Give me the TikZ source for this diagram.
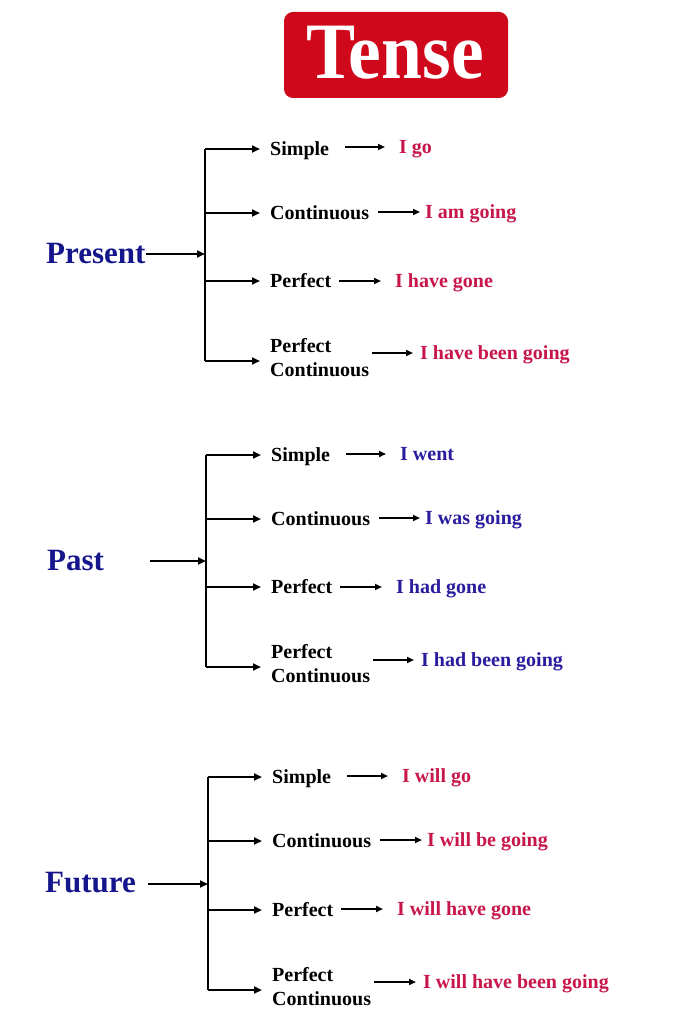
\documentclass[tikz,border=0pt]{standalone}
\usepackage{fontspec}
\setmainfont{Liberation Serif}
\usetikzlibrary{arrows.meta}
\definecolor{tred}{RGB}{208,8,28}
\definecolor{navy}{RGB}{22,22,140}
\definecolor{exred}{RGB}{200,22,75}
\definecolor{exblue}{RGB}{42,28,158}
\begin{document}
\begin{tikzpicture}[x=1pt,y=-1pt,
 lab/.style={anchor=west,inner sep=0pt,font=\fontsize{20}{22}\selectfont\bfseries,text height=13pt,text depth=0pt},
 exr/.style={lab,text=exred},
 exb/.style={lab,text=exblue},
 head/.style={anchor=west,inner sep=0pt,font=\fontsize{31}{36}\selectfont\bfseries,text=navy,text height=20.5pt,text depth=0pt},
 br/.style={line width=2.2pt},
 arr/.style={line width=2.2pt,-{Triangle[length=8pt,width=7pt]}},
 sarr/.style={line width=1.8pt,-{Triangle[length=7pt,width=6pt]}}]
\useasboundingbox (0,0) rectangle (700,1024);
\fill[white] (0,0) rectangle (700,1024);
% title
\node[fill=tred,rounded corners=9pt,minimum width=224pt,minimum height=86pt,inner sep=0pt] (title) at (396,55) {};
\node[text=white,inner sep=0pt,font=\fontsize{80}{80}\selectfont\bfseries,text height=53pt,text depth=0pt] (tensetext) at (395,52) {\scalebox{0.92}[1]{Tense}};
% ---------- Present ----------
\node[head] (pres) at (46,253) {Present};
\coordinate (pj) at (205,254);
\coordinate (pt) at (205,149);
\coordinate (pb) at (205,361);
\draw[br] (pt) -- (pb);
\draw[arr] (pres.east |- pj) -- (pj);
\node[lab] (ps) at (270,149) {Simple};
\node[lab] (pc) at (270,213) {Continuous};
\node[lab] (pp) at (270,281) {Perfect};
\node[lab] (ppf) at (270,346) {Perfect};
\node[lab] (ppc) at (270,370) {Continuous};
\node[exr] (pe1) at (399,147) {I go};
\node[exr] (pe2) at (425,212) {I am going};
\node[exr] (pe3) at (395,281) {I have gone};
\node[exr] (pe4) at (420,353) {I have been going};
\draw[arr,shorten >=10pt] (pt) -- (ps.west);
\draw[arr,shorten >=10pt] (pt |- pc.west) -- (pc.west);
\draw[arr,shorten >=10pt] (pt |- pp.west) -- (pp.west);
\draw[arr,shorten >=10pt] (pb) -- (pb -| ppf.west);
\draw[sarr,shorten <=16pt,shorten >=14pt] (ps.east |- pe1.west) -- (pe1.west);
\draw[sarr,shorten <=9pt,shorten >=5pt] (pc.east |- pe2.west) -- (pe2.west);
\draw[sarr,shorten <=8pt,shorten >=14pt] (pp.east |- pe3.west) -- (pe3.west);
\draw[sarr,shorten <=3pt,shorten >=7pt] (ppc.east |- pe4.west) -- (pe4.west);
% ---------- Past ----------
\node[head] (past) at (47,560) {Past};
\coordinate (aj) at (206,561);
\coordinate (at) at (206,455);
\coordinate (ab) at (206,667);
\draw[br] (at) -- (ab);
\draw[arr,shorten <=46pt] (past.east |- aj) -- (aj);
\node[lab] (as) at (271,455) {Simple};
\node[lab] (ac) at (271,519) {Continuous};
\node[lab] (ap) at (271,587) {Perfect};
\node[lab] (apf) at (271,652) {Perfect};
\node[lab] (apc) at (271,676) {Continuous};
\node[exb] (ae1) at (400,454) {I went};
\node[exb] (ae2) at (425,518) {I was going};
\node[exb] (ae3) at (396,587) {I had gone};
\node[exb] (ae4) at (421,660) {I had been going};
\draw[arr,shorten >=10pt] (at) -- (as.west);
\draw[arr,shorten >=10pt] (at |- ac.west) -- (ac.west);
\draw[arr,shorten >=10pt] (at |- ap.west) -- (ap.west);
\draw[arr,shorten >=10pt] (ab) -- (ab -| apf.west);
\draw[sarr,shorten <=16pt,shorten >=14pt] (as.east |- ae1.west) -- (ae1.west);
\draw[sarr,shorten <=9pt,shorten >=5pt] (ac.east |- ae2.west) -- (ae2.west);
\draw[sarr,shorten <=8pt,shorten >=14pt] (ap.east |- ae3.west) -- (ae3.west);
\draw[sarr,shorten <=3pt,shorten >=7pt] (apc.east |- ae4.west) -- (ae4.west);
% ---------- Future ----------
\node[head] (fut) at (45,882) {Future};
\coordinate (fj) at (208,884);
\coordinate (ft) at (208,777);
\coordinate (fb) at (208,990);
\draw[br] (ft) -- (fb);
\draw[arr,shorten <=12pt] (fut.east |- fj) -- (fj);
\node[lab] (fs) at (272,777) {Simple};
\node[lab] (fc) at (272,841) {Continuous};
\node[lab] (fp) at (272,910) {Perfect};
\node[lab] (fpf) at (272,975) {Perfect};
\node[lab] (fpc) at (272,999) {Continuous};
\node[exr] (fe1) at (402,776) {I will go};
\node[exr] (fe2) at (427,840) {I will be going};
\node[exr] (fe3) at (397,909) {I will have gone};
\node[exr] (fe4) at (423,982) {I will have been going};
\draw[arr,shorten >=10pt] (ft) -- (fs.west);
\draw[arr,shorten >=10pt] (ft |- fc.west) -- (fc.west);
\draw[arr,shorten >=10pt] (ft |- fp.west) -- (fp.west);
\draw[arr,shorten >=10pt] (fb) -- (fb -| fpf.west);
\draw[sarr,shorten <=16pt,shorten >=14pt] (fs.east |- fe1.west) -- (fe1.west);
\draw[sarr,shorten <=9pt,shorten >=5pt] (fc.east |- fe2.west) -- (fe2.west);
\draw[sarr,shorten <=8pt,shorten >=14pt] (fp.east |- fe3.west) -- (fe3.west);
\draw[sarr,shorten <=3pt,shorten >=7pt] (fpc.east |- fe4.west) -- (fe4.west);
\end{tikzpicture}
\end{document}
